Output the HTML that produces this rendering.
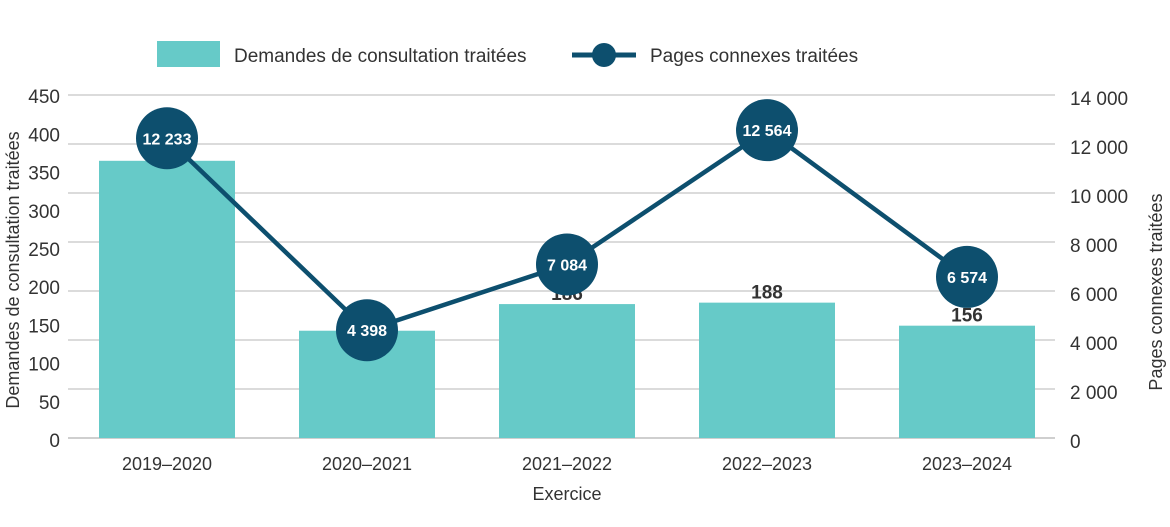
<!DOCTYPE html>
<html><head><meta charset="utf-8"><style>
body{margin:0;background:#fff}
svg text{font-family:"Liberation Sans",sans-serif;fill:#333}
</style></head><body>
<svg width="1170" height="522" viewBox="0 0 1170 522">
<g>
<rect x="157" y="41" width="63" height="26" fill="#66cac8"/>
<text x="234" y="62" font-size="19">Demandes de consultation traitées</text>
<line x1="572" y1="55" x2="636" y2="55" stroke="#0d4f6e" stroke-width="5"/>
<circle cx="604" cy="55" r="12" fill="#0d4f6e"/>
<text x="650" y="62" font-size="19">Pages connexes traitées</text>
</g>
<g id="grid"></g><g id="bars"></g><g id="line"></g><g id="axes"></g>
<text x="567" y="500" font-size="18" text-anchor="middle">Exercice</text>
<text transform="translate(19,270) rotate(-90)" font-size="18" text-anchor="middle">Demandes de consultation traitées</text>
<text transform="translate(1162,292) rotate(-90)" font-size="18" text-anchor="middle">Pages connexes traitées</text>
</svg>
<script>
const categories=["2019–2020","2020–2021","2021–2022","2022–2023","2023–2024"];
const requests=[385,149,186,188,156];
const pages=[12233,4398,7084,12564,6574];
const pageLabels=["12 233","4 398","7 084","12 564","6 574"];
const leftTicks=[0,50,100,150,200,250,300,350,400,450];
const rightTicks=[0,2000,4000,6000,8000,10000,12000,14000];
const rightTickLabels=["0","2 000","4 000","6 000","8 000","10 000","12 000","14 000"];
const NS="http://www.w3.org/2000/svg";
const y0=438,x0=68,x1=1055,band=200;
const yL=v=>y0-v*0.72;
const yLabelL=v=>y0-v*0.764;
const yR=v=>y0-(v/14000)*343;
const xC=i=>167+i*band;
function mk(tag,attrs,parent,txt){const e=document.createElementNS(NS,tag);for(const k in attrs)e.setAttribute(k,attrs[k]);if(txt!==undefined)e.textContent=txt;document.getElementById(parent).appendChild(e);return e;}
rightTicks.forEach((t,i)=>{
 const l=mk('line',{x1:x0,x2:x1,y1:yR(t),y2:yR(t),stroke:'#cfcfcf','stroke-width':t===0?2:1.5},'grid');
 
 
 const tx=mk('text',{x:1070,y:yR(t)+10,'font-size':19},'axes',rightTickLabels[i]);
 
 
});
leftTicks.forEach(t=>{
 const tx=mk('text',{x:60,y:yLabelL(t)+9,'font-size':19,'text-anchor':'end'},'axes',String(t));
 
 
});
categories.forEach((c,i)=>{
 const r=mk('rect',{x:xC(i)-68,y:yL(requests[i]),width:136,height:y0-yL(requests[i]),fill:'#66cac8'},'bars');
 
 
 const v=mk('text',{x:xC(i),y:yL(requests[i])-4,'font-size':19,'font-weight':'bold','text-anchor':'middle'},'bars',String(requests[i]));
 
 
 const tx=mk('text',{x:xC(i),y:470,'font-size':18,'text-anchor':'middle'},'axes',c);
 
 
});
const pts=pages.map((p,i)=>xC(i)+','+yR(p)).join(' ');
const pl=mk('polyline',{points:pts,fill:'none',stroke:'#0d4f6e','stroke-width':4.5},'line');


pages.forEach((p,i)=>{
 const c=mk('circle',{cx:xC(i),cy:yR(p),r:31,fill:'#0d4f6e'},'line');
 
 
 const t=mk('text',{x:xC(i),y:yR(p)+6,'font-size':16,'font-weight':'bold','text-anchor':'middle',style:'fill:#fff'},'line',pageLabels[i]);
 
 
});
</script>
</body></html>
